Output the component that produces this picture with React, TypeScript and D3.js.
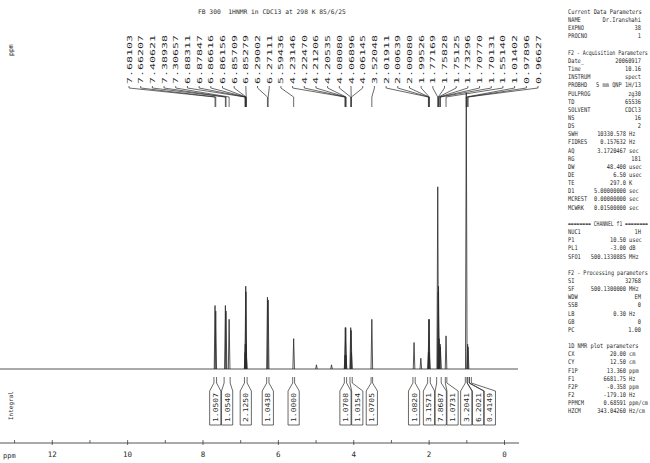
import React from 'react';
import * as d3 from 'd3';

// peak list (ppm, relative intensity) as printed above the spectrum
const peakPpm = [
  7.68103, 7.66207, 7.40621, 7.38938, 7.30657, 6.88311, 6.87847, 6.86616, 6.86156,
  6.85709, 6.85279, 6.29002, 6.27111, 5.59436, 4.23146, 4.2247, 4.21206, 4.20535,
  4.0808, 4.06896, 4.06145, 3.52048, 2.01911, 2.00639, 2.0008, 1.99526, 1.77169,
  1.75828, 1.75125, 1.73296, 1.7077, 1.70131, 1.5514, 1.01402, 0.97896, 0.96627,
];
const peakHeight = [
  23, 21, 23, 21, 18, 6, 9, 30, 28,
  9, 6, 26, 25, 11, 5, 15, 15, 5,
  15, 14, 6, 18, 6, 18, 18, 6, 66,
  28, 30, 11, 9, 8, 12, 100, 9, 8,
];
// small peaks without a label
const extraPpm = [4.99, 4.59, 2.4, 2.22];
const extraHeight = [1.5, 1.5, 9.6, 3.9];

// integrals: region [from, to] in ppm and value
const integralFrom = [7.71, 7.44, 6.9, 6.31, 5.62, 4.25, 4.1, 3.54, 2.43, 2.04, 1.8, 1.57, 1.04, 0.99, 0.93];
const integralTo = [7.64, 7.28, 6.83, 6.25, 5.57, 4.19, 4.04, 3.5, 2.37, 1.97, 1.68, 1.53, 0.99, 0.94, 0.88];
const integralValue = [
  '1.0507', '1.0540', '2.1250', '1.0438', '1.0000', '1.0708', '1.0154', '1.0705',
  '1.0820', '3.1571', '7.8687', '1.0731', '3.2041', '6.2021', '0.4149',
];

const axisTicks = [12, 10, 8, 6, 4, 2, 0];

// acquisition / processing parameter listing: [key, value, unit]
const paramLines: (string | [string, string, string] | null)[] = [
  'Current Data Parameters',
  ['NAME', 'Dr.Iranshahi', ''],
  ['EXPNO', '38', ''],
  ['PROCNO', '1', ''],
  null,
  'F2 - Acquisition Parameters',
  ['Date_', '20060917', ''],
  ['Time', '10.16', ''],
  ['INSTRUM', 'spect', ''],
  ['PROBHD', '5 mm QNP 1H/13', ''],
  ['PULPROG', 'zg30', ''],
  ['TD', '65536', ''],
  ['SOLVENT', 'CDCl3', ''],
  ['NS', '16', ''],
  ['DS', '2', ''],
  ['SWH', '10330.578', 'Hz'],
  ['FIDRES', '0.157632', 'Hz'],
  ['AQ', '3.1720467', 'sec'],
  ['RG', '181', ''],
  ['DW', '48.400', 'usec'],
  ['DE', '6.50', 'usec'],
  ['TE', '297.0', 'K'],
  ['D1', '5.00000000', 'sec'],
  ['MCREST', '0.00000000', 'sec'],
  ['MCWRK', '0.01500000', 'sec'],
  null,
  '======== CHANNEL f1 ========',
  ['NUC1', '1H', ''],
  ['P1', '10.50', 'usec'],
  ['PL1', '-3.00', 'dB'],
  ['SFO1', '500.1330885', 'MHz'],
  null,
  'F2 - Processing parameters',
  ['SI', '32768', ''],
  ['SF', '500.1300000', 'MHz'],
  ['WDW', 'EM', ''],
  ['SSB', '0', ''],
  ['LB', '0.30', 'Hz'],
  ['GB', '0', ''],
  ['PC', '1.00', ''],
  null,
  '1D NMR plot parameters',
  ['CX', '20.00', 'cm'],
  ['CY', '12.50', 'cm'],
  ['F1P', '13.360', 'ppm'],
  ['F1', '6681.75', 'Hz'],
  ['F2P', '-0.358', 'ppm'],
  ['F2', '-179.10', 'Hz'],
  ['PPMCM', '0.68591', 'ppm/cm'],
  ['HZCM', '343.04260', 'Hz/cm'],
];

const W = 650, H = 463;
const mono = '"DejaVu Sans Mono", monospace';
const ink = '#2a2a2a';

const App = () => {
  const x = d3.scaleLinear().domain([13.36, -0.358]).range([1, 518]);
  const y = d3.scaleLinear().domain([0, 100]).range([369, 93]);
  const base = y(0);

  const spike = (ppm: number, h: number) =>
    d3.line()([[x(ppm) - 0.8, base], [x(ppm), y(h)], [x(ppm) + 0.8, base]]);

  // peak labels spread evenly across the top
  const labX0 = 129, labX1 = 538;
  const labStep = (labX1 - labX0) / (peakPpm.length - 1);

  // integral boxes: start under region centre, pushed right to avoid overlap
  const boxW = 11.2;
  const boxC: number[] = [];
  integralFrom.forEach((f, i) => {
    let c = x((f + integralTo[i]) / 2);
    if (i > 0 && c < boxC[i - 1] + boxW + 0.6) c = boxC[i - 1] + boxW + 0.6;
    boxC.push(c);
  });

  const lineH = 8.15;
  const fs = 6.5;
  const charW = 0.602 * fs;

  return (
    <svg width={W} height={H} style={{ position: 'absolute', left: 0, top: 0, background: '#fff' }}>
      <text x={198} y={14} fontFamily={mono} fontSize={6.3} fill={ink} style={{ whiteSpace: 'pre' }}>
        {'FB 300  1HNMR in CDC13 at 298 K 85/6/25'}
      </text>
      <text transform="translate(13,56) rotate(-90)" fontFamily={mono} fontSize={6.5} fill={ink}>ppm</text>
      <text transform="translate(13,420) rotate(-90)" fontFamily={mono} fontSize={6} fill={ink}>Integral</text>

      {/* peak labels with leader lines */}
      {peakPpm.map((p, i) => {
        const lx = labX0 + i * labStep;
        return (
          <g key={'pl' + i}>
            <text
              transform={`translate(${lx + 2.5},84) rotate(-90)`}
              fontFamily={mono}
              fontSize={6.8}
              textLength={49}
              lengthAdjust="spacingAndGlyphs"
              fill={ink}
            >
              {p.toFixed(5)}
            </text>
            <path
              d={d3.line()([[lx, 86], [lx, 88], [x(p), 97], [x(p), 107]]) || ''}
              fill="none"
              stroke={ink}
              strokeWidth={0.7}
            />
          </g>
        );
      })}

      {/* spectrum */}
      <line x1={0} x2={518} y1={base} y2={base} stroke={ink} strokeWidth={0.8} />
      {peakPpm.map((p, i) => (
        <path key={'pk' + i} d={spike(p, peakHeight[i]) || ''} fill="none" stroke={ink} strokeWidth={0.8} />
      ))}
      {extraPpm.map((p, i) => (
        <path key={'ex' + i} d={spike(p, extraHeight[i]) || ''} fill="none" stroke={ink} strokeWidth={0.8} />
      ))}

      {/* integrals */}
      {integralValue.map((v, i) => {
        const xl = x(integralFrom[i]), xr = x(integralTo[i]);
        const bl = boxC[i] - boxW / 2, br = boxC[i] + boxW / 2;
        const d = d3.line()([
          [xl, 377], [xl, 383], [bl, 391], [bl, 425], [br, 425], [br, 391], [xr, 383], [xr, 377],
        ]);
        return (
          <g key={'in' + i}>
            <path d={d || ''} fill="none" stroke={ink} strokeWidth={0.7} />
            <text
              transform={`translate(${boxC[i] + 2.5},422) rotate(-90)`}
              fontFamily={mono}
              fontSize={6.8}
              textLength={29}
              lengthAdjust="spacingAndGlyphs"
              fill={ink}
            >
              {v}
            </text>
          </g>
        );
      })}

      {/* ppm axis */}
      <line x1={0} x2={519} y1={443} y2={443} stroke={ink} strokeWidth={0.8} />
      {d3.range(13, -1, -1).map(t => (
        <line key={'tk' + t} x1={x(t)} x2={x(t)} y1={440} y2={t % 2 === 0 ? 445 : 443} stroke={ink} strokeWidth={0.7} />
      ))}
      {axisTicks.map(t => (
        <text key={'tl' + t} x={x(t)} y={457} textAnchor="middle" fontFamily={mono} fontSize={7.5} fill={ink}>
          {t}
        </text>
      ))}
      <text x={3} y={458} fontFamily={mono} fontSize={7} fill={ink}>ppm</text>

      {/* parameter panel */}
      {paramLines.map((l, i) => {
        const yy = 14 + i * lineH;
        if (l === null) return null;
        const tf = (xx: number, s = 0.82) => `translate(${xx},${yy}) scale(${s},1)`;
        if (typeof l === 'string') {
          const s = Math.min(0.82, 80 / (l.length * charW));
          return (
            <text key={'pp' + i} transform={tf(568, s)} fontFamily={mono} fontSize={fs} fill={ink} style={{ whiteSpace: 'pre' }}>
              {l}
            </text>
          );
        }
        const [k, v, u] = l;
        const us = u ? Math.min(0.82, 19 / (u.length * charW)) : 0.82;
        return (
          <g key={'pp' + i}>
            <text transform={tf(568)} fontFamily={mono} fontSize={fs} fill={ink}>{k}</text>
            <text transform={tf(u ? 626 : 641)} textAnchor="end" fontFamily={mono} fontSize={fs} fill={ink} style={{ whiteSpace: 'pre' }}>
              {v}
            </text>
            {u && (
              <text transform={tf(629, us)} fontFamily={mono} fontSize={fs} fill={ink}>{u}</text>
            )}
          </g>
        );
      })}
    </svg>
  );
};

export default App;
